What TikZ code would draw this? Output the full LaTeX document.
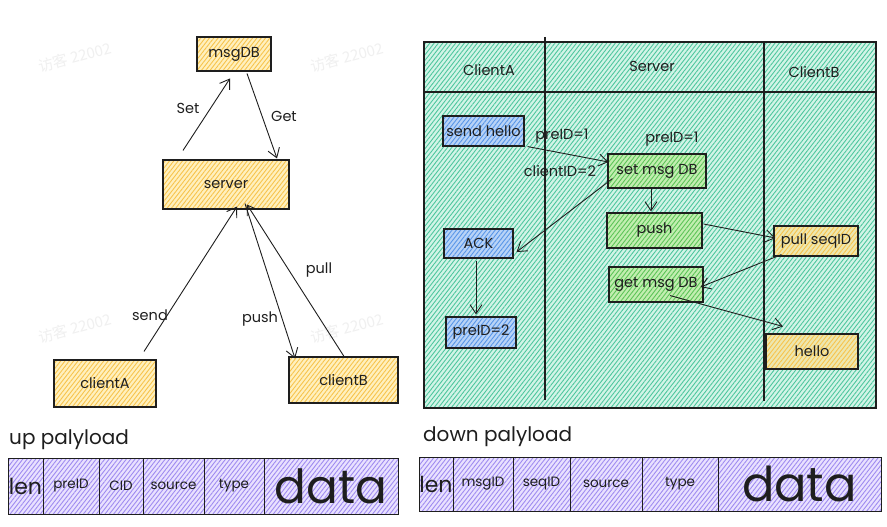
\documentclass[tikz,border=0pt]{standalone}
\usepackage{fontspec}
\setmainfont{Poppins}
\newfontfamily\cjk{Noto Sans CJK SC}
\usetikzlibrary{arrows.meta,patterns.meta}
\definecolor{ink}{HTML}{1E1E1E}
\definecolor{tealf}{HTML}{D2F4E7}
\definecolor{teall}{HTML}{4EC69E}
\definecolor{yelf}{HTML}{FFF0BE}
\definecolor{yell}{HTML}{F7C34C}
\definecolor{bluf}{HTML}{B8D3F7}
\definecolor{blul}{HTML}{5896E8}
\definecolor{grnf}{HTML}{C2EEB0}
\definecolor{grnl}{HTML}{5CC458}
\definecolor{purf}{HTML}{E9E1FF}
\definecolor{purl}{HTML}{9F8BF0}
\definecolor{ytf}{HTML}{EDE7B0}
\begin{document}
\begin{tikzpicture}[x=1pt,y=-1pt,
  hatch/.style 2 args={preaction={fill=#1},pattern={Lines[angle=52,distance=3.4pt,line width=0.9pt]},pattern color=#2},
  box/.style={draw=ink,line width=1.1pt,inner sep=0pt,text=ink,font=\fontsize{14.5}{16}\selectfont},
  ybox/.style={box,hatch={yelf}{yell}},
  bbox/.style={box,hatch={bluf}{blul}},
  gbox/.style={box,hatch={grnf}{grnl}},
  ytbox/.style={box,hatch={ytf}{yell}},
  cell/.style={draw=ink,line width=1pt,inner sep=0pt,hatch={purf}{purl},minimum height=#1},
  arr/.style={draw=ink,line width=0.9pt,-{Straight Barb[length=9pt,width=12pt,line width=0.9pt]}},
  lbl/.style={text=ink,font=\fontsize{14.5}{16}\selectfont,inner sep=1pt},
  wm/.style={text=black!6,font=\cjk\fontsize{15}{17}\selectfont,rotate=15}
]
\useasboundingbox (0,0) rectangle (887,527);
\fill[white] (0,0) rectangle (887,527);
% watermarks
\node[wm] (wm1) at (75,57) {访客 22002};
\node[wm] (wm2) at (347,57) {访客 22002};
\node[wm] (wm3) at (75,328) {访客 22002};
\node[wm] (wm4) at (347,328) {访客 22002};

% ---------------- left diagram
\node[ybox,minimum width=74pt,minimum height=34pt] (msgDB) at (234,54) {msgDB};
\node[ybox,minimum width=126pt,minimum height=49pt] (server) at (226,184.5) {server};
\node[ybox,minimum width=102pt,minimum height=47pt] (clientA) at (105,383.5) {clientA};
\node[ybox,minimum width=109pt,minimum height=46pt] (clientB) at (343.5,380) {clientB};

\draw[arr] ([shift={(-43,-9)}]server.north) -- ([shift={(-4,7)}]msgDB.south);
\draw[arr] ([shift={(13,2)}]msgDB.south) -- ([shift={(51,-1)}]server.north);
\draw[arr] ([shift={(39,-8)}]clientA.north) -- ([shift={(11,-3)}]server.south);
\draw[arr] ([shift={(19,-6)}]server.south) -- ([shift={(-48.5,2)}]clientB.north);
\draw[arr] ([shift={(0.5,0)}]clientB.north) -- ([shift={(21,-5)}]server.south);

\node[lbl] (lset) at (188,108) {Set};
\node[lbl] (lget) at (284,116) {Get};
\node[lbl] (lsend) at (150,315) {send};
\node[lbl] (lpush) at (260,319) {push};
\node[lbl] (lpull) at (319,270) {pull};

% ---------------- right diagram
\draw[draw=ink,line width=1.2pt,hatch={tealf}{teall}] (424,42) rectangle (876,408);
\draw[ink,line width=1.1pt] (424,92) -- (876,92);
\draw[ink,line width=1.4pt] (545,37) -- (545,400);
\draw[ink,line width=1.1pt] (764,42) -- (764,401);
\node[lbl] (hA) at (489,70) {ClientA};
\node[lbl] (hS) at (652,66) {Server};
\node[lbl] (hB) at (814,72) {ClientB};

\node[bbox,minimum width=81pt,minimum height=30pt] (sendhello) at (483.5,131) {send hello};
\node[gbox,minimum width=98pt,minimum height=34pt] (setmsg) at (657,171) {set msg DB};
\node[gbox,minimum width=95pt,minimum height=35pt] (push) at (654.5,230.5) {push};
\node[bbox,minimum width=69pt,minimum height=29pt] (ack) at (478.5,243.5) {ACK};
\node[ytbox,minimum width=84pt,minimum height=30pt] (pullseq) at (816,241) {pull seqID};
\node[gbox,minimum width=94pt,minimum height=35pt] (getmsg) at (656,284.5) {get msg DB};
\node[bbox,minimum width=70pt,minimum height=31pt] (preid) at (481,332.5) {preID=2};
\node[ytbox,minimum width=92pt,minimum height=35pt] (hello) at (812,351.5) {hello};

\draw[arr] ([shift={(3,0)}]sendhello.south east) -- ([shift={(1,-9)}]setmsg.west);
\draw[arr] ([shift={(5,-10)}]setmsg.south west) -- ([shift={(3,8.5)}]ack.east);
\draw[arr] ([shift={(-6,-1)}]setmsg.south) -- ([shift={(-3.5,-1)}]push.north);
\draw[arr] ([shift={(-2.5,2)}]ack.south) -- ([shift={(-5,-2)}]preid.north);
\draw[arr] ([shift={(1,-6.5)}]push.east) -- ([shift={(2,-3)}]pullseq.west);
\draw[arr] ([shift={(8,-2)}]pullseq.south west) -- ([shift={(-3,2.5)}]getmsg.east);
\draw[arr] ([shift={(14,-7)}]getmsg.south) -- ([shift={(-29,-7)}]hello.north);

\node[lbl] (lp1) at (562,136) {preID=1};
\node[lbl] (lc2) at (560,171) {clientID=2};
\node[lbl] (lp2) at (672,139) {preID=1};

% ---------------- payloads
\node[text=ink,font=\fontsize{20}{22}\selectfont,anchor=west,inner sep=0pt] (uptitle) at (9,440) {up palyload};
\node[text=ink,font=\fontsize{20}{22}\selectfont,anchor=west,inner sep=0pt] (downtitle) at (423,437) {down palyload};

\begin{scope}[every node/.style={text=ink}]
\node[cell=56pt,minimum width=35pt,font=\fontsize{22}{24}\selectfont] (u1) at (25.5,486) {len};
\node[cell=56pt,minimum width=56pt,font=\fontsize{13.5}{15}\selectfont] (u2) at (71,486) {preID};
\node[cell=56pt,minimum width=44pt,font=\fontsize{13.5}{15}\selectfont] (u3) at (121,486) {CID};
\node[cell=56pt,minimum width=61pt,font=\fontsize{13.5}{15}\selectfont] (u4) at (173.5,486) {source};
\node[cell=56pt,minimum width=60pt,font=\fontsize{13.5}{15}\selectfont] (u5) at (234,486) {type};
\node[cell=56pt,minimum width=134pt,font=\fontsize{47}{49}\selectfont] (u6) at (331,486) {data};

\node[cell=54pt,minimum width=34pt,font=\fontsize{22}{24}\selectfont] (d1) at (436,484) {len};
\node[cell=54pt,minimum width=60pt,font=\fontsize{13.5}{15}\selectfont] (d2) at (483,484) {msgID};
\node[cell=54pt,minimum width=57pt,font=\fontsize{13.5}{15}\selectfont] (d3) at (541.5,484) {seqID};
\node[cell=54pt,minimum width=72pt,font=\fontsize{13.5}{15}\selectfont] (d4) at (606,484) {source};
\node[cell=54pt,minimum width=76pt,font=\fontsize{13.5}{15}\selectfont] (d5) at (680,484) {type};
\node[cell=54pt,minimum width=163pt,font=\fontsize{48}{50}\selectfont] (d6) at (799.5,484) {data};
\end{scope}
\end{tikzpicture}
\end{document}
